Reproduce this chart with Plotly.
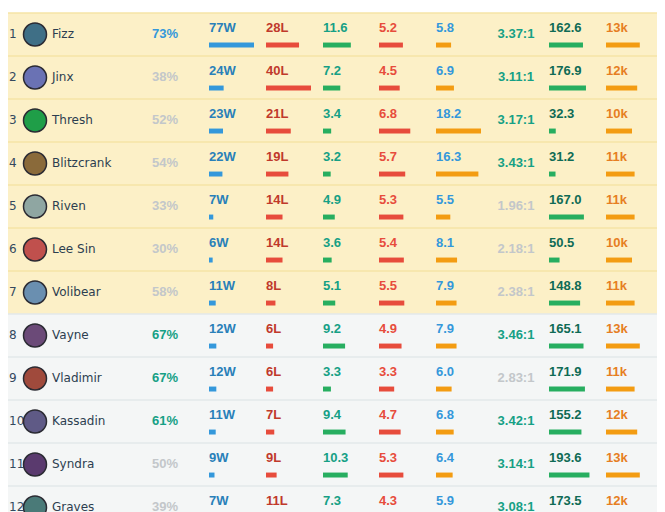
import plotly.graph_objects as go

# champion stats table
ranks = list(range(1, 13))
champions = ["Fizz", "Jinx", "Thresh", "Blitzcrank", "Riven", "Lee Sin",
             "Volibear", "Vayne", "Vladimir", "Kassadin", "Syndra", "Graves"]
win_rate = [73, 38, 52, 54, 33, 30, 58, 67, 67, 61, 50, 39]
wins = [77, 24, 23, 22, 7, 6, 11, 12, 12, 11, 9, 7]
losses = [28, 40, 21, 19, 14, 14, 8, 6, 6, 7, 9, 11]
kills = [11.6, 7.2, 3.4, 3.2, 4.9, 3.6, 5.1, 9.2, 3.3, 9.4, 10.3, 7.3]
deaths = [5.2, 4.5, 6.8, 5.7, 5.3, 5.4, 5.5, 4.9, 3.3, 4.7, 5.3, 4.3]
assists = [5.8, 6.9, 18.2, 16.3, 5.5, 8.1, 7.9, 7.9, 6.0, 6.8, 6.4, 5.9]
kda = [3.37, 3.11, 3.17, 3.43, 1.96, 2.18, 2.38, 3.46, 2.83, 3.42, 3.14, 3.08]
cs = [162.6, 176.9, 32.3, 31.2, 167.0, 50.5, 148.8, 165.1, 171.9, 155.2, 193.6, 173.5]
gold_k = [13, 12, 10, 11, 11, 10, 11, 13, 11, 12, 13, 12]
icon_colors = ["#3f6f86", "#6a72b4", "#1f9e48", "#8a6a3a", "#8fa6a2", "#c0504d",
               "#6a8fb0", "#6b4a78", "#a04a3c", "#5f5a86", "#5a3a6e", "#4a7a78"]

# the page puts the plot 8px in from the top-left corner
PAGE = 8
W, H = 665 - PAGE, 512 - PAGE
TOP, ROW_H = 13 - PAGE, 43
TABLE_RIGHT = 658 - PAGE


def px(x):
    # screen x -> plot x
    return x - PAGE


n = len(champions)
rows = list(range(n))
y_mid = [r + 0.5 for r in rows]
y_txt = [r + 0.37 for r in rows]
y_bar = [r + 0.745 for r in rows]

NAME_FONT = "DejaVu Sans, sans-serif"
NUM_FONT = "Liberation Sans, Arial, sans-serif"
GRAY = "#c3c7ca"

fig = go.Figure()

# row backgrounds
shapes = []
for r in rows:
    fill = "#fcf0c7" if r < 7 else "#f4f6f6"
    line = "#f6e4a6" if r < 7 else "#e3e8ea"
    shapes.append(dict(type="rect", xref="x", yref="y", x0=0, x1=TABLE_RIGHT,
                       y0=r, y1=r + 1, fillcolor=fill, line_width=0, layer="below"))
    shapes.append(dict(type="line", xref="x", yref="y", x0=0, x1=TABLE_RIGHT,
                       y0=r, y1=r, line=dict(color=line, width=1.5), layer="below"))
shapes.append(dict(type="line", xref="x", yref="paper", x0=px(661), x1=px(661), y0=0, y1=1,
                   line=dict(color="#dcdfe1", width=1)))

# rank, icon, name
fig.add_trace(go.Scatter(x=[px(9)] * n, y=y_mid, mode="text", text=[str(r) for r in ranks],
                         textposition="middle right",
                         textfont=dict(family=NAME_FONT, size=12, color="#34495e"),
                         hoverinfo="skip"))
fig.add_trace(go.Scatter(x=[px(35)] * n, y=y_mid, mode="markers",
                         marker=dict(size=23, color=icon_colors,
                                     line=dict(color="#2b2b33", width=1.5)),
                         hoverinfo="skip"))
fig.add_trace(go.Scatter(x=[px(52)] * n, y=y_mid, mode="text", text=champions,
                         textposition="middle right",
                         textfont=dict(family=NAME_FONT, size=12, color="#2c3e50"),
                         hoverinfo="skip"))

# win rate
wr_colors = ["#3498db" if v >= 70 else "#16a085" if v >= 60 else GRAY for v in win_rate]
fig.add_trace(go.Scatter(x=[px(178)] * n, y=y_mid, mode="text",
                         text=[f"{v}%" for v in win_rate], textposition="middle left",
                         textfont=dict(family=NUM_FONT, size=13, color=wr_colors, weight="bold"),
                         hoverinfo="skip"))

# KDA
kda_colors = ["#16a085" if v >= 3 else GRAY for v in kda]
fig.add_trace(go.Scatter(x=[px(516)] * n, y=[r + 0.5 for r in rows], mode="text",
                         text=[f"{v:.2f}:1" for v in kda], textposition="middle center",
                         textfont=dict(family=NUM_FONT, size=13, color=kda_colors, weight="bold"),
                         hoverinfo="skip"))

# stat columns: values, labels, text colour, bar colour, left x on screen, px per unit
columns = [
    (wins, [f"{v}W" for v in wins], "#2980b9", "#3498db", 209, 0.61),
    (losses, [f"{v}L" for v in losses], "#c0392b", "#e74c3c", 266, 1.18),
    (kills, [f"{v:.1f}" for v in kills], "#16a085", "#27ae60", 323, 2.4),
    (deaths, [f"{v:.1f}" for v in deaths], "#e74c3c", "#e74c3c", 379, 4.6),
    (assists, [f"{v:.1f}" for v in assists], "#3498db", "#f39c12", 436, 2.6),
    (cs, [f"{v:.1f}" for v in cs], "#0f6b55", "#27ae60", 549, 0.209),
    (gold_k, [f"{v}k" for v in gold_k], "#e67e22", "#f39c12", 606, 2.6),
]
SPAN = 45
axes = {}
for i, (vals, labels, tcol, bcol, x0, ppu) in enumerate(columns):
    ax = f"x{i + 2}"
    fig.add_trace(go.Scatter(x=[px(x0)] * n, y=y_txt, mode="text", text=labels,
                             textposition="middle right",
                             textfont=dict(family=NUM_FONT, size=13, color=tcol, weight="bold"),
                             hoverinfo="skip"))
    fig.add_trace(go.Bar(x=vals, y=y_bar, orientation="h", xaxis=ax, yaxis="y",
                         width=0.115, marker=dict(color=bcol, line_width=0),
                         hoverinfo="skip"))
    axes[f"xaxis{i + 2}"] = dict(domain=[px(x0) / W, (px(x0) + SPAN) / W],
                                 range=[0, SPAN / ppu],
                                 anchor="y", visible=False, fixedrange=True)

fig.update_layout(
    width=W, height=H,
    margin=dict(l=0, r=0, t=0, b=0),
    paper_bgcolor="white", plot_bgcolor="rgba(0,0,0,0)",
    showlegend=False, barmode="overlay",
    xaxis=dict(range=[0, W], visible=False, fixedrange=True),
    yaxis=dict(range=[(H - TOP) / ROW_H, -TOP / ROW_H], visible=False, fixedrange=True),
    shapes=shapes,
    **axes,
)

fig.write_html("out.html")
